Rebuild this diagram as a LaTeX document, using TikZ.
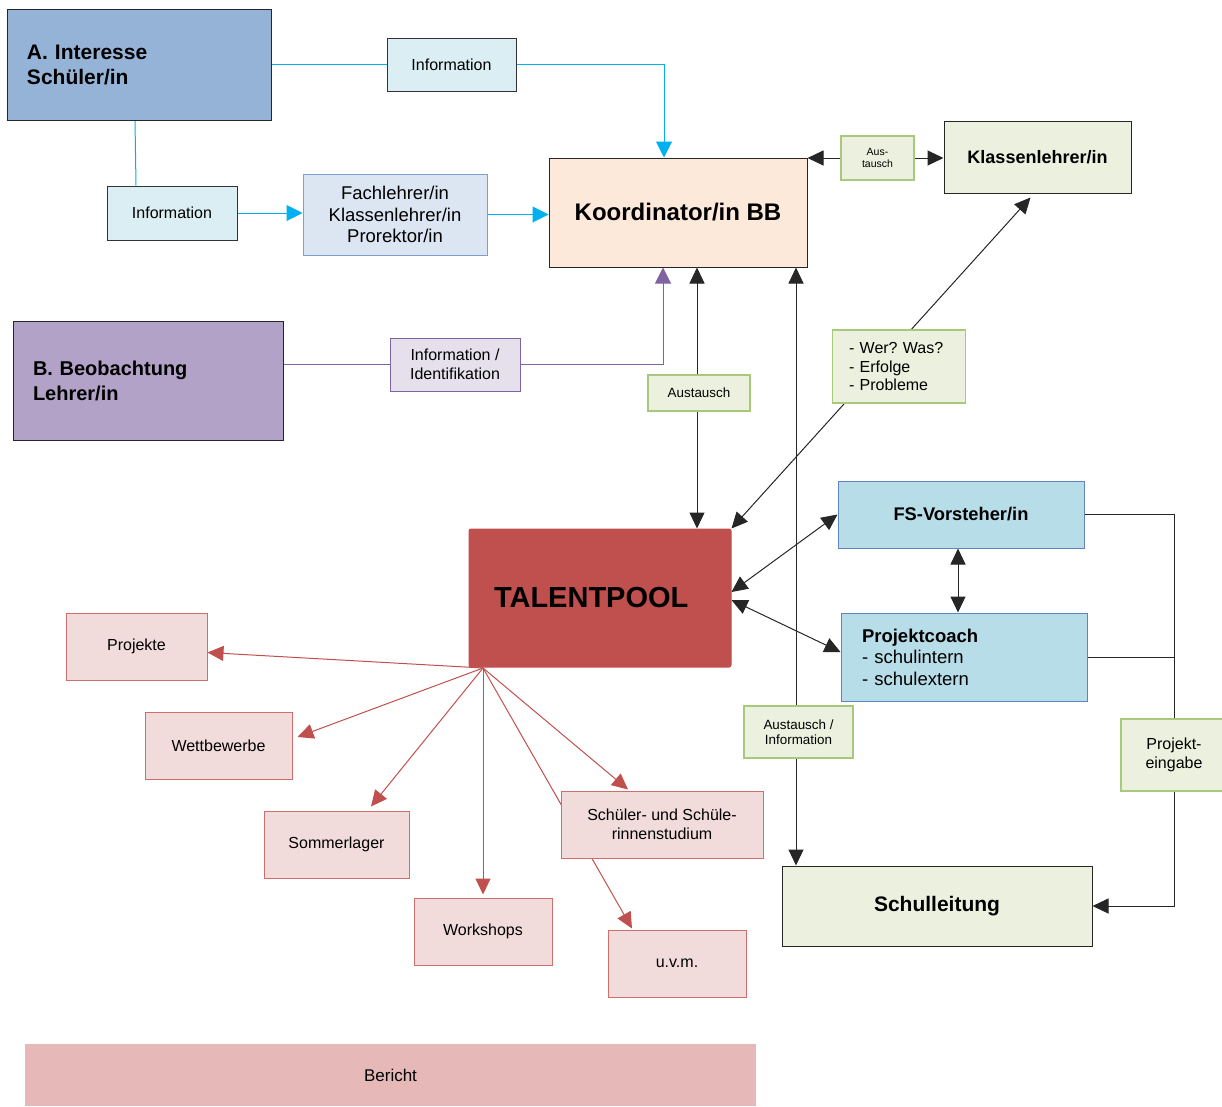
\documentclass[tikz,border=0pt]{standalone}
\usepackage{fontspec}
\setmainfont{Liberation Sans}
\usepackage{xcolor}
\usepackage{tikz}
\usetikzlibrary{positioning, arrows.meta, backgrounds}
\definecolor{schuelerblue}{HTML}{95B3D7}
\definecolor{infobg}{HTML}{DAEEF3}
\definecolor{fachbg}{HTML}{DCE6F2}
\definecolor{fachline}{HTML}{7E9DD0}
\definecolor{koordbg}{HTML}{FDE9D9}
\definecolor{notebg}{HTML}{EBF1DE}
\definecolor{noteline}{HTML}{A9C97A}
\definecolor{lehrerpurple}{HTML}{B2A2C7}
\definecolor{identbg}{HTML}{E5E0EC}
\definecolor{identline}{HTML}{8064A2}
\definecolor{poolred}{HTML}{C0504D}
\definecolor{coachbg}{HTML}{B7DDE8}
\definecolor{coachline}{HTML}{5F84C0}
\definecolor{offerbg}{HTML}{F2DCDB}
\definecolor{offerline}{HTML}{CF6E6B}
\definecolor{berichtbg}{HTML}{E6B9B8}
\definecolor{infocyan}{HTML}{00B0F0}
\newcommand{\txtreg}{\fontsize{16}{18.5}\selectfont}
\newcommand{\txtfach}{\fontsize{18.5}{21.5}\selectfont}
\newcommand{\txtsmall}{\fontsize{13.4}{15.4}\selectfont}
\newcommand{\txttiny}{\fontsize{10.5}{12}\selectfont}

\begin{document}
\begin{tikzpicture}[x=1pt, y=-1pt,
  base/.style={draw, inner sep=0pt, line width=1pt, align=center, font=\txtreg},
  head/.style={base, draw=black!85},
  infobox/.style={base, fill=infobg, draw=black!80},
  note/.style={base, fill=notebg, draw=noteline, line width=1.2pt},
  coach/.style={base, fill=coachbg, draw=coachline},
  offer/.style={base, fill=offerbg, draw=offerline, minimum height=67pt},
  cyanflow/.style={draw=infocyan, line width=1pt},
  cyanarr/.style={cyanflow, -{Triangle[length=16pt,width=16pt]}},
  identflow/.style={draw=identline, line width=1pt},
  plain/.style={draw=black!85, line width=1pt},
  arr/.style={plain, -{Triangle[length=16pt,width=15pt]}},
  dbl/.style={plain, {Triangle[length=16pt,width=15pt]}-{Triangle[length=16pt,width=15pt]}},
  redarr/.style={draw=poolred, line width=1pt, -{Triangle[length=16pt,width=15pt]}}
]
  \useasboundingbox (0,0) rectangle (1222,1106);

  % A / B
  \node[head, fill=schuelerblue, minimum width=264pt, minimum height=111pt, text width=224pt, align=left, font=\fontsize{21}{25}\selectfont\bfseries] (interesse) at (139,64.5) {A. Interesse\\Schüler/in};
  \node[head, fill=lehrerpurple, minimum width=270pt, minimum height=119pt, text width=230pt, align=left, font=\fontsize{20}{25}\selectfont\bfseries] (beob) at (148,380.5) {B. Beobachtung\\Lehrer/in};

  \node[infobox, minimum width=129pt, minimum height=53pt] (info1) at (451.5,64.5) {Information};
  \node[infobox, minimum width=130pt, minimum height=54pt] (info2) at (172,213) {Information};
  \node[base, fill=fachbg, draw=fachline, minimum width=184pt, minimum height=81pt, font=\txtfach] (fach) at (395,214.5) {Fachlehrer/in\\Klassenlehrer/in\\Prorektor/in};
  \node[base, fill=identbg, draw=identline, minimum width=130pt, minimum height=53pt] (ident) at (455,364.5) {Information /\\Identifikation};

  \node[head, fill=koordbg, minimum width=258pt, minimum height=109pt, font=\fontsize{24}{28}\selectfont\bfseries] (koord) at (678,212.5) {Koordinator/in BB};
  \node[note, minimum width=73pt, minimum height=44pt, font=\txttiny] (aust1) at (877.5,158) {Aus-\\tausch};
  \node[head, fill=notebg, minimum width=187pt, minimum height=72pt, font=\fontsize{18}{21}\selectfont\bfseries] (klass) at (1037.5,157) {Klassenlehrer/in};
  \node[note, minimum width=102pt, minimum height=36pt, font=\txtsmall] (aust2) at (699,393) {Austausch};
  \node[note, minimum width=133pt, minimum height=73pt, text width=100pt, align=left] (werwas) at (899,366.5) {- Wer?\ Was?\\- Erfolge\\- Probleme};

  % Talentpool
  \node[base, fill=poolred, draw=poolred, rounded corners=2pt, minimum width=262pt, minimum height=138pt, text width=212pt, align=left, font=\fontsize{29}{34}\selectfont\bfseries] (talent) at (600,598) {TALENTPOOL};
  \node[coach, minimum width=246pt, minimum height=67pt, font=\fontsize{18.3}{21}\selectfont\bfseries] (fsv) at (961,514.5) {FS-Vorsteher/in};
  \node[coach, minimum width=246pt, minimum height=88pt, text width=204pt, align=left, font=\fontsize{18.5}{21.5}\selectfont] (pcoach) at (964,657) {\textbf{Projektcoach}\\- schulintern\\- schulextern};
  \node[note, minimum width=109pt, minimum height=52pt, font=\txtsmall] (austinfo) at (798.5,732) {Austausch /\\Information};
  \node[note, minimum width=106pt, minimum height=72pt] (projein) at (1174,755) {Projekt-\\eingabe};
  \node[head, fill=notebg, minimum width=310pt, minimum height=80pt, font=\fontsize{21}{25}\selectfont\bfseries] (schull) at (937,906) {Schulleitung};

  % Angebote
  \node[offer, minimum width=141pt] (projekte) at (136.5,646.5) {Projekte};
  \node[offer, minimum width=147pt] (wettb) at (218.5,746) {Wettbewerbe};
  \node[offer, minimum width=145pt] (sommer) at (336.5,844.5) {Sommerlager};
  \node[offer, minimum width=138pt] (workshops) at (483,931.5) {Workshops};
  \node[offer, minimum width=202pt] (studium) at (662,824.5) {Schüler- und Schüle-\\rinnenstudium};
  \node[offer, minimum width=138pt] (uvm) at (677,963.5) {u.v.m.};
  \node[base, draw=none, fill=berichtbg, minimum width=731pt, minimum height=62pt, font=\fontsize{17}{20}\selectfont] (bericht) at (390.5,1075) {Bericht};

  \coordinate (fan) at (483,668);

  \begin{scope}[on background layer]
    \draw[cyanflow] (interesse) -- (info1);
    \draw[cyanarr] (info1.east) -| ([xshift=-14pt]koord.north);
    \draw[cyanflow] ([xshift=-4pt]interesse.south) -- ([xshift=-36pt]info2.north);
    \draw[cyanarr] (info2.east) -- (info2.east -| fach.west);
    \draw[cyanarr] (fach.east) -- (fach.east -| koord.west);

    \draw[identflow] (ident.west -| beob.east) -- (ident.west);
    \draw[identflow, -{Triangle[length=16pt,width=16pt]}] (ident.east) -| ([xshift=-15pt]koord.south);

    \draw[arr] (aust1.west) -- (aust1.west -| koord.east);
    \draw[arr] (aust1.east) -- (aust1.east -| klass.west);
    \draw[dbl] ([xshift=19pt]koord.south) -- ([xshift=19pt]koord.south |- talent.north);
    \draw[dbl] ([xshift=118pt]koord.south) -- ([xshift=118pt]koord.south |- schull.north);
    \draw[dbl] (talent.north east) -- ([shift={(-7pt,-4pt)}]klass.south);

    \draw[dbl] ([yshift=6pt]talent.east) -- (fsv.west);
    \draw[dbl] ([yshift=-2pt]talent.east) -- ([yshift=5pt]pcoach.west);
    \draw[dbl] ([xshift=-3pt]fsv.south) -- ([xshift=-3pt]fsv.south |- pcoach.north);
    \draw[plain] (fsv.east) -| (projein.north);
    \draw[plain] (pcoach.east) -- (pcoach.east -| projein.north);
    \draw[arr] (projein.south) |- (schull.east);

    \draw[redarr] (fan) -- ([yshift=-6pt]projekte.east);
    \draw[redarr] (fan) -- ([shift={(5pt,9pt)}]wettb.east);
    \draw[redarr] (fan) -- ([shift={(34.5pt,4pt)}]sommer.north);
    \draw[redarr] (fan) -- ([yshift=3pt]workshops.north);
    \draw[redarr] (fan) -- ([shift={(-34pt,1pt)}]studium.north);
    \draw[redarr] (fan) -- ([shift={(-45pt,1pt)}]uvm.north);
  \end{scope}
\end{tikzpicture}
\end{document}
